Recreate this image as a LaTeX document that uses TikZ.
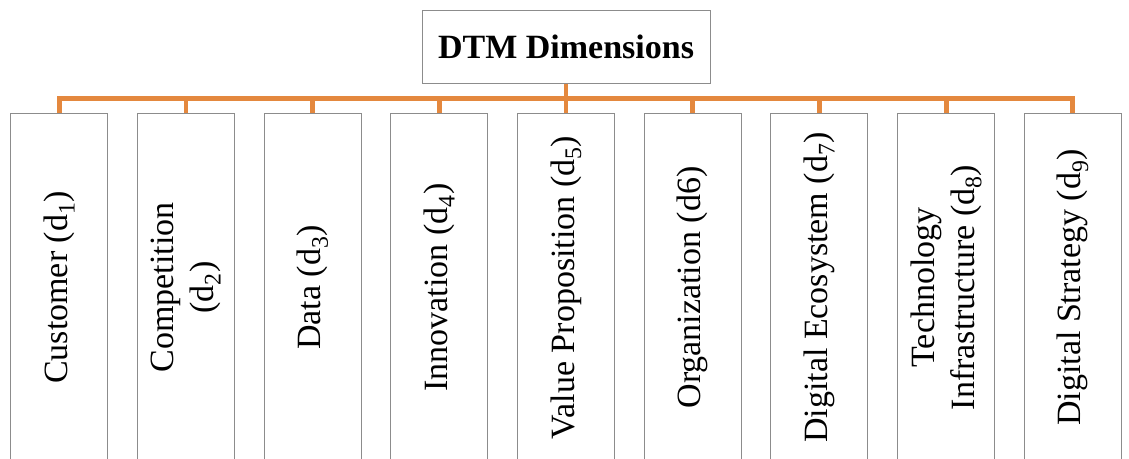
\documentclass[tikz,border=0pt]{standalone}
\usepackage{fontspec}
\setmainfont{Liberation Serif}
\usetikzlibrary{positioning}
\definecolor{branch}{RGB}{228,136,62}
\definecolor{frame}{RGB}{140,140,140}
\begin{document}
\begin{tikzpicture}[x=1pt,y=-1pt,line join=miter,
  dim/.style={draw=frame,line width=1pt,rotate=90,minimum width=349pt,minimum height=97pt,
    inner sep=0pt,align=center,font=\fontsize{34}{40}\selectfont},
  link/.style={draw=branch,line width=4.8pt}]
\def\gap{126.7}
\useasboundingbox (0,0) rectangle (1129,458);
\fill[white] (0,0) rectangle (1129,458);
%
\node[draw=frame,line width=1pt,minimum width=288pt,minimum height=73pt,inner sep=0pt,
  font=\fontsize{34}{40}\selectfont\bfseries] (top) at (566,46.5) {DTM Dimensions};
\foreach \i/\txt in {1/{Customer (d\textsubscript{1})},
  2/{Competition\\(d\textsubscript{2})},
  3/{Data (d\textsubscript{3})},
  4/{Innovation (d\textsubscript{4})},
  5/{Value Proposition (d\textsubscript{5})},
  6/{Organization (d6)},
  7/{Digital Ecosystem (d\textsubscript{7})},
  8/{Technology\\Infrastructure (d\textsubscript{8})},
  9/{Digital Strategy (d\textsubscript{9})}}
  \node[dim] (d\i) at ({59.2+\gap*(\i-1)},287.5) {\txt};
%
\coordinate (bus) at (566,98.5);
\path[link] (top.south) -- (bus);
\path[link] (d1.east) |- (d9.east |- bus) -- (d9.east);
\foreach \i in {2,...,8}
  \path[link] (d\i.east |- bus) -- (d\i.east);
\end{tikzpicture}
\end{document}
